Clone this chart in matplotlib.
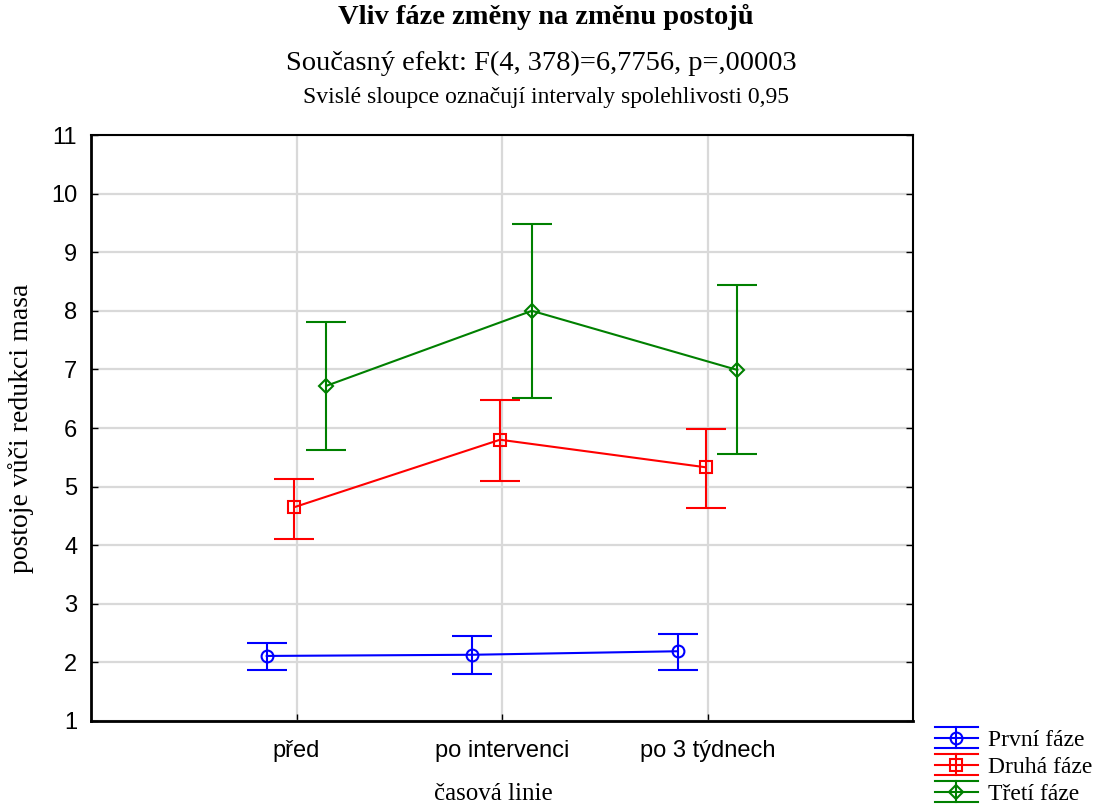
import matplotlib
matplotlib.use("Agg")
import matplotlib.pyplot as plt
from matplotlib.lines import Line2D
from matplotlib.legend_handler import HandlerBase
import numpy as np

categories = ["před", "po intervenci", "po 3 týdnech"]
series_names = ["První fáze", "Druhá fáze", "Třetí fáze"]

prvni_mean = [2.11, 2.13, 2.19]
prvni_low = [1.87, 1.80, 1.87]
prvni_high = [2.33, 2.45, 2.48]

druha_mean = [4.65, 5.80, 5.33]
druha_low = [4.11, 5.10, 4.63]
druha_high = [5.13, 6.47, 5.98]

treti_mean = [6.72, 8.00, 6.99]
treti_low = [5.62, 6.52, 5.56]
treti_high = [7.81, 9.48, 8.44]

yticks = list(range(1, 12))

means = [prvni_mean, druha_mean, treti_mean]
lows = [prvni_low, druha_low, treti_low]
highs = [prvni_high, druha_high, treti_high]
colors = ["#0000FF", "#FF0000", "#008000"]
markers = ["o", "s", "D"]
msizes = [8.5, 8, 7.5]
offsets = [-0.145, -0.01, 0.145]

fig = plt.figure(figsize=(11.02, 8.09), dpi=100)
ax = fig.add_axes([0.0826, 0.1088, 0.746, 0.7243])

x = np.arange(len(categories))
handles = []
for m, lo, hi, c, mk, ms, off in zip(means, lows, highs, colors, markers, msizes, offsets):
    m = np.array(m); lo = np.array(lo); hi = np.array(hi)
    h = ax.errorbar(x + off, m, yerr=[m - lo, hi - m], color=c, marker=mk,
                    markersize=ms, markerfacecolor="none", markeredgewidth=1.5,
                    linewidth=1.5, elinewidth=1.5, capsize=14.5, capthick=1.5, zorder=3)
    handles.append(h)

ax.set_xlim(-1, 3)
ax.set_ylim(1, 11)
ax.set_xticks(x)
ax.set_xticklabels(categories, fontfamily="Liberation Sans", fontsize=17)
ax.set_yticks(yticks)
ax.set_yticklabels([str(t) for t in yticks], fontfamily="Liberation Sans", fontsize=17)
ax.grid(True, color="#d9d9d9", linewidth=1.6, zorder=0)
ax.set_axisbelow(True)
ax.tick_params(axis="y", direction="in", length=5, width=1, right=True, pad=10)
ax.tick_params(axis="x", direction="in", length=5, width=1, pad=14)
ax.spines["left"].set_linewidth(2)
ax.spines["bottom"].set_linewidth(2)
ax.spines["right"].set_linewidth(1.5)
ax.spines["top"].set_linewidth(1.5)

ax.set_ylabel("postoje vůči redukci masa", fontfamily="Liberation Serif", fontsize=20, labelpad=12)
ax.set_xlabel("časová linie", fontfamily="Liberation Serif", fontsize=18, labelpad=16)
ax.xaxis.set_label_coords(0.489, -0.105)

fig.text(0.4955, 0.979, "Vliv fáze změny na změnu postojů", ha="center", va="center",
         fontfamily="Liberation Serif", fontweight="bold", fontsize=20.5)
fig.text(0.4915, 0.922, "Současný efekt: F(4, 378)=6,7756, p=,00003", ha="center", va="center",
         fontfamily="Liberation Serif", fontsize=20.5)
fig.text(0.4955, 0.879, "Svislé sloupce označují intervaly spolehlivosti 0,95", ha="center", va="center",
         fontfamily="Liberation Serif", fontsize=17)


class ErrHandler(HandlerBase):
    def __init__(self, color, marker, ms):
        super().__init__()
        self.color = color
        self.marker = marker
        self.ms = ms

    def create_artists(self, legend, orig_handle, xdescent, ydescent, width, height, fontsize, trans):
        x0, x1 = -xdescent, -xdescent + width
        yc = -ydescent + height / 2
        yt, yb = -ydescent + height, -ydescent
        xc = (x0 + x1) / 2
        kw = dict(color=self.color, linewidth=1.5, transform=trans)
        arts = [
            Line2D([x0, x1], [yt, yt], **kw),
            Line2D([x0, x1], [yc, yc], **kw),
            Line2D([x0, x1], [yb, yb], **kw),
            Line2D([xc, xc], [yb, yt], **kw),
            Line2D([xc], [yc], marker=self.marker, markersize=self.ms, markerfacecolor="none",
                   markeredgecolor=self.color, markeredgewidth=1.5, linestyle="none", transform=trans),
        ]
        return arts


handler_map = {h: ErrHandler(c, mk, ms) for h, c, mk, ms in zip(handles, colors, markers, msizes)}
leg = fig.legend(handles, series_names, loc="upper left", bbox_to_anchor=(0.8485, 0.1014),
                 frameon=False, prop={"family": "Liberation Serif", "size": 17},
                 handlelength=1.8, handleheight=1.0, handletextpad=0.45, labelspacing=0.15,
                 borderpad=0, borderaxespad=0, handler_map=handler_map)

fig.savefig("out.png", dpi=100)
